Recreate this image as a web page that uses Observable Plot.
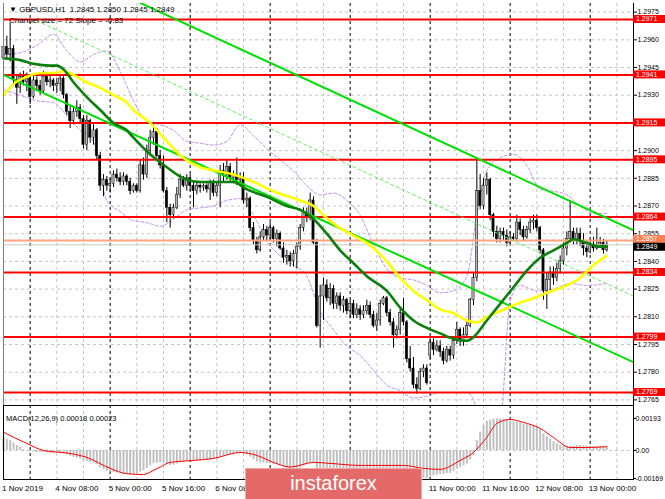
<!DOCTYPE html>
<html><head><meta charset="utf-8">
<script src="https://cdn.jsdelivr.net/npm/d3@7"></script>
<script src="https://cdn.jsdelivr.net/npm/@observablehq/plot@0.6"></script>
<style>
body{margin:0;background:#fff;}
#wrap{position:relative;width:665px;height:499px;overflow:hidden;font-family:"Liberation Sans",Arial,sans-serif;background:#fff;}
#wrap svg{position:absolute;left:0;}
#logo{position:absolute;left:245px;top:468px;width:175px;height:31px;background:#e46a6a;border:1px solid #f2a7a7;color:#fff;font-size:20px;line-height:29px;text-align:center;font-family:"Liberation Sans",Arial,sans-serif;}
</style></head><body><div id="wrap"></div>
<script>
// ---- H1 candles, bar 0 = 1 Nov 2019 16:00 ----
const opens = [1.2950,1.2956,1.2952,1.2955,1.2938,1.2934,1.2940,1.2937,1.2939,1.2929,
1.2938,1.2935,1.2932,1.2940,1.2937,1.2938,1.2935,1.2936,1.2939,1.2930,
1.2921,1.2916,1.2921,1.2923,1.2917,1.2903,1.2916,1.2907,1.2911,1.2897,
1.2881,1.2884,1.2881,1.2882,1.2887,1.2885,1.2883,1.2886,1.2883,1.2878,
1.2881,1.2878,1.2892,1.2887,1.2900,1.2907,1.2910,1.2897,1.2892,1.2878,
1.2869,1.2865,1.2869,1.2876,1.2884,1.2881,1.2885,1.2881,1.2878,1.2881,
1.2880,1.2881,1.2879,1.2883,1.2877,1.2881,1.2889,1.2887,1.2891,1.2885,
1.2887,1.2884,1.2885,1.2873,1.2874,1.2858,1.2851,1.2846,1.2853,1.2857,
1.2854,1.2858,1.2852,1.2855,1.2847,1.2842,1.2843,1.2840,1.2844,1.2848,
1.2858,1.2866,1.2864,1.2873,1.2850,1.2805,1.2821,1.2827,1.2820,1.2825,
1.2817,1.2821,1.2816,1.2819,1.2813,1.2817,1.2811,1.2814,1.2811,1.2813,
1.2816,1.2811,1.2805,1.2808,1.2817,1.2820,1.2812,1.2807,1.2800,1.2803,
1.2812,1.2807,1.2787,1.2782,1.2773,1.2771,1.2780,1.2782,1.2789,1.2796,
1.2792,1.2794,1.2791,1.2786,1.2792,1.2789,1.2797,1.2803,1.2797,1.2800,
1.2805,1.2819,1.2831,1.2878,1.2870,1.2881,1.2884,1.2865,1.2856,1.2852,
1.2856,1.2854,1.2850,1.2853,1.2852,1.2861,1.2857,1.2853,1.2857,1.2861,
1.2862,1.2858,1.2846,1.2824,1.2830,1.2834,1.2831,1.2836,1.2840,1.2847,
1.2852,1.2856,1.2851,1.2855,1.2851,1.2847,1.2845,1.2849,1.2847,1.2849,
1.2850,1.2846];
const highs = [1.2958,1.2962,1.2969,1.2957,1.2941,1.2942,1.2943,1.2942,1.2940,1.2941,
1.2940,1.2938,1.2943,1.2942,1.2940,1.2939,1.2939,1.2941,1.2940,1.2931,
1.2924,1.2923,1.2927,1.2925,1.2919,1.2919,1.2917,1.2914,1.2912,1.2899,
1.2887,1.2886,1.2885,1.2889,1.2890,1.2888,1.2888,1.2887,1.2885,1.2882,
1.2882,1.2895,1.2896,1.2903,1.2911,1.2915,1.2912,1.2900,1.2897,1.2880,
1.2871,1.2871,1.2880,1.2887,1.2886,1.2887,1.2887,1.2883,1.2883,1.2882,
1.2882,1.2882,1.2884,1.2884,1.2883,1.2892,1.2893,1.2895,1.2893,1.2889,
1.2896,1.2888,1.2888,1.2877,1.2875,1.2861,1.2853,1.2856,1.2860,1.2859,
1.2861,1.2859,1.2857,1.2856,1.2850,1.2846,1.2845,1.2846,1.2850,1.2860,
1.2869,1.2869,1.2877,1.2875,1.2852,1.2827,1.2831,1.2830,1.2828,1.2827,
1.2823,1.2823,1.2821,1.2820,1.2819,1.2819,1.2817,1.2816,1.2816,1.2819,
1.2818,1.2813,1.2812,1.2819,1.2821,1.2821,1.2814,1.2809,1.2805,1.2814,
1.2820,1.2808,1.2794,1.2788,1.2777,1.2782,1.2784,1.2784,1.2798,1.2798,
1.2797,1.2797,1.2793,1.2794,1.2794,1.2799,1.2807,1.2804,1.2804,1.2808,
1.2820,1.2834,1.2896,1.2887,1.2885,1.2888,1.2885,1.2866,1.2859,1.2858,
1.2858,1.2857,1.2856,1.2855,1.2865,1.2863,1.2859,1.2859,1.2863,1.2865,
1.2865,1.2859,1.2847,1.2834,1.2837,1.2837,1.2839,1.2843,1.2850,1.2856,
1.2873,1.2858,1.2858,1.2858,1.2855,1.2851,1.2852,1.2853,1.2858,1.2853,
1.2852,1.2851];
const lows = [1.2948,1.2949,1.2948,1.2935,1.2925,1.2931,1.2935,1.2932,1.2925,1.2928,
1.2932,1.2930,1.2931,1.2935,1.2934,1.2932,1.2931,1.2932,1.2928,1.2919,
1.2912,1.2914,1.2918,1.2915,1.2901,1.2900,1.2904,1.2903,1.2895,1.2878,
1.2875,1.2878,1.2877,1.2880,1.2883,1.2881,1.2881,1.2881,1.2876,1.2877,
1.2877,1.2877,1.2884,1.2885,1.2897,1.2903,1.2896,1.2890,1.2877,1.2861,
1.2858,1.2863,1.2868,1.2874,1.2880,1.2878,1.2878,1.2869,1.2876,1.2877,
1.2878,1.2877,1.2873,1.2875,1.2875,1.2869,1.2883,1.2884,1.2883,1.2882,
1.2881,1.2881,1.2871,1.2869,1.2856,1.2849,1.2844,1.2845,1.2851,1.2851,
1.2851,1.2850,1.2848,1.2846,1.2839,1.2838,1.2837,1.2837,1.2836,1.2846,
1.2856,1.2861,1.2862,1.2849,1.2804,1.2793,1.2808,1.2818,1.2816,1.2814,
1.2814,1.2813,1.2812,1.2811,1.2809,1.2809,1.2809,1.2808,1.2809,1.2811,
1.2809,1.2804,1.2802,1.2805,1.2816,1.2810,1.2805,1.2793,1.2798,1.2800,
1.2805,1.2785,1.2780,1.2771,1.2768,1.2770,1.2777,1.2773,1.2787,1.2789,
1.2791,1.2788,1.2784,1.2785,1.2786,1.2787,1.2795,1.2794,1.2794,1.2798,
1.2804,1.2816,1.2829,1.2868,1.2868,1.2876,1.2862,1.2853,1.2850,1.2850,
1.2851,1.2848,1.2849,1.2851,1.2851,1.2854,1.2851,1.2852,1.2855,1.2857,
1.2856,1.2844,1.2819,1.2814,1.2824,1.2827,1.2829,1.2833,1.2838,1.2843,
1.2850,1.2849,1.2849,1.2848,1.2843,1.2842,1.2844,1.2845,1.2846,1.2847,
1.2844,1.2845];
const closes = [1.2956,1.2952,1.2955,1.2938,1.2934,1.2940,1.2937,1.2939,1.2929,1.2938,
1.2935,1.2932,1.2940,1.2937,1.2938,1.2935,1.2936,1.2939,1.2930,1.2921,
1.2916,1.2921,1.2923,1.2917,1.2903,1.2916,1.2907,1.2911,1.2897,1.2881,
1.2884,1.2881,1.2882,1.2887,1.2885,1.2883,1.2886,1.2883,1.2878,1.2881,
1.2878,1.2892,1.2887,1.2900,1.2907,1.2910,1.2897,1.2892,1.2878,1.2869,
1.2865,1.2869,1.2876,1.2884,1.2881,1.2885,1.2881,1.2878,1.2881,1.2880,
1.2881,1.2879,1.2883,1.2877,1.2881,1.2889,1.2887,1.2891,1.2885,1.2887,
1.2884,1.2885,1.2873,1.2874,1.2858,1.2851,1.2846,1.2853,1.2857,1.2854,
1.2858,1.2852,1.2855,1.2847,1.2842,1.2843,1.2840,1.2844,1.2848,1.2858,
1.2866,1.2864,1.2873,1.2850,1.2805,1.2821,1.2827,1.2820,1.2825,1.2817,
1.2821,1.2816,1.2819,1.2813,1.2817,1.2811,1.2814,1.2811,1.2813,1.2816,
1.2811,1.2805,1.2808,1.2817,1.2820,1.2812,1.2807,1.2800,1.2803,1.2812,
1.2807,1.2787,1.2782,1.2773,1.2771,1.2780,1.2782,1.2774,1.2796,1.2792,
1.2794,1.2791,1.2786,1.2792,1.2789,1.2797,1.2803,1.2797,1.2800,1.2805,
1.2819,1.2831,1.2878,1.2870,1.2881,1.2884,1.2865,1.2856,1.2852,1.2856,
1.2854,1.2850,1.2853,1.2852,1.2861,1.2857,1.2853,1.2857,1.2861,1.2862,
1.2858,1.2846,1.2824,1.2830,1.2834,1.2831,1.2836,1.2840,1.2847,1.2852,
1.2856,1.2851,1.2855,1.2851,1.2847,1.2845,1.2849,1.2847,1.2849,1.2850,
1.2846,1.2849];

// ---- moving averages (bar index, value) ----
const maGreenBars = [0,5,9,14,16,18,21,25,29,33,37,39,44,49,54,59,64,69,73,79,85,89,93,97,101,105,109,115,119,123,127,131,135,139,141,145,149,153,157,161,165,169,171,175,179,181];
const maGreenValues = [1.2950,1.2949,1.2947,1.2946,1.2946,1.2944,1.2937,1.2929,1.2922,1.2915,1.2911,1.2907,1.2898,1.2891,1.2885,1.2883,1.2883,1.2883,1.2879,1.2875,1.2870,1.2868,1.2863,1.2855,1.2846,1.2839,1.2832,1.2824,1.2815,1.2808,1.2804,1.2801,1.2798,1.2797,1.2799,1.2808,1.2817,1.2826,1.2835,1.2842,1.2846,1.2850,1.2852,1.2850,1.2848,1.2848];
const maYellowBars = [0,3,7,11,15,18,21,25,29,33,37,39,44,49,54,59,64,69,75,81,89,93,96,101,105,109,115,119,123,127,131,135,139,142,145,149,154,159,163,169,173,177,181];
const maYellowValues = [1.2930,1.2936,1.2940,1.2942,1.2942,1.2943,1.2941,1.2937,1.2934,1.2930,1.2926,1.2922,1.2915,1.2905,1.2896,1.2891,1.2889,1.2887,1.2883,1.2878,1.2873,1.2870,1.2865,1.2858,1.2854,1.2850,1.2840,1.2831,1.2824,1.2819,1.2814,1.2812,1.2808,1.2807,1.2810,1.2813,1.2817,1.2820,1.2823,1.2827,1.2831,1.2838,1.2843];
// ---- envelope bands ----
const bandUpperBars = [0,5,10,15,19,23,27,31,35,39,43,47,51,55,59,63,67,71,75,79,83,87,91,95,99,103,107,111,115,119,123,127,131,135,139,142,145,149,153,157,161,165,169,173,177,181];
const bandUpperValues = [1.2952,1.2953,1.2957,1.2963,1.2954,1.2948,1.2952,1.2954,1.2943,1.2927,1.2916,1.2914,1.2911,1.2905,1.2904,1.2903,1.2905,1.2914,1.2908,1.2901,1.2895,1.2889,1.2881,1.2876,1.2877,1.2873,1.2865,1.2849,1.2836,1.2831,1.2830,1.2827,1.2823,1.2824,1.2832,1.2865,1.2889,1.2896,1.2898,1.2892,1.2879,1.2878,1.2876,1.2870,1.2866,1.2866];
const bandLowerBars = [0,5,10,15,19,23,27,31,35,39,43,47,51,55,59,63,67,71,75,79,83,87,91,95,99,103,107,111,115,119,123,127,131,135,139,141,143,149,152,155,160,165,170,175,181];
const bandLowerValues = [1.2933,1.2930,1.2927,1.2926,1.2919,1.2911,1.2905,1.2873,1.2867,1.2862,1.2861,1.2859,1.2863,1.2868,1.2869,1.2870,1.2873,1.2874,1.2865,1.2851,1.2843,1.2838,1.2832,1.2813,1.2803,1.2794,1.2789,1.2781,1.2773,1.2770,1.2766,1.2767,1.2769,1.2769,1.2769,1.2765,1.2754,1.2754,1.2819,1.2827,1.2824,1.2825,1.2828,1.2827,1.2828];
// ---- trend lines (bar index, price) ----
const trendUpper = [[41, 1.29800],[189, 1.28568]];
const trendLower = [[0, 1.29410],[189, 1.27854]];
const trendDashed = [[10, 1.29703],[189, 1.28212]];
// ---- horizontal levels ----
const redLevels = [1.2971,1.2941,1.2915,1.2895,1.2864,1.2834,1.2799,1.2769];
const askLine = 1.28513, askLabel = "1.2857";
const bidLine = 1.2849, bidLabel = "1.2849";
const priceTicks = [1.2765,1.2780,1.2795,1.2810,1.2825,1.2840,1.2855,1.2870,1.2885,1.2900,1.2915,1.2930,1.2945,1.2960,1.2975];
// ---- MACD(12,26,9) ----
const macdMain = [0.00075,0.00068,0.00060,0.00045,0.00030,0.00018,0.00005,-0.00002,-0.00008,-0.00010,
-0.00012,-0.00012,-0.00012,-0.00014,-0.00015,-0.00016,-0.00018,-0.00020,-0.00022,-0.00028,
-0.00036,-0.00042,-0.00046,-0.00052,-0.00062,-0.00066,-0.00072,-0.00076,-0.00086,-0.00105,
-0.00115,-0.00125,-0.00130,-0.00133,-0.00136,-0.00138,-0.00140,-0.00142,-0.00145,-0.00145,
-0.00142,-0.00130,-0.00122,-0.00108,-0.00092,-0.00080,-0.00076,-0.00074,-0.00078,-0.00085,
-0.00090,-0.00088,-0.00082,-0.00074,-0.00070,-0.00066,-0.00064,-0.00064,-0.00062,-0.00060,
-0.00058,-0.00056,-0.00054,-0.00054,-0.00052,-0.00042,-0.00036,-0.00028,-0.00026,-0.00022,
-0.00018,-0.00016,-0.00020,-0.00026,-0.00040,-0.00055,-0.00068,-0.00074,-0.00076,-0.00078,
-0.00080,-0.00083,-0.00085,-0.00090,-0.00098,-0.00104,-0.00110,-0.00114,-0.00114,-0.00106,
-0.00094,-0.00086,-0.00074,-0.00078,-0.00110,-0.00125,-0.00128,-0.00132,-0.00134,-0.00138,
-0.00140,-0.00142,-0.00144,-0.00145,-0.00146,-0.00146,-0.00146,-0.00147,-0.00147,-0.00146,
-0.00147,-0.00150,-0.00150,-0.00146,-0.00142,-0.00142,-0.00144,-0.00148,-0.00148,-0.00144,
-0.00142,-0.00150,-0.00158,-0.00166,-0.00172,-0.00170,-0.00168,-0.00170,-0.00160,-0.00154,
-0.00148,-0.00145,-0.00145,-0.00140,-0.00138,-0.00128,-0.00112,-0.00104,-0.00094,-0.00082,
-0.00058,-0.00030,0.00060,0.00110,0.00150,0.00175,0.00182,0.00188,0.00190,0.00190,
0.00188,0.00184,0.00178,0.00172,0.00170,0.00166,0.00160,0.00156,0.00152,0.00148,
0.00142,0.00130,0.00100,0.00082,0.00068,0.00052,0.00040,0.00030,0.00025,0.00022,
0.00024,0.00026,0.00030,0.00030,0.00028,0.00025,0.00024,0.00024,0.00022,0.00022,
0.00020,0.00018];
const signalBars = [0,7,12,20,25,32,37,42,45,47,50,57,63,71,76,81,86,93,98,107,120,126,131,137,141,145,148,152,156,161,165,170,175,181];
const signalValues = [0.00110,0.00042,0.0,-0.00018,-0.00042,-0.00108,-0.00140,-0.00145,-0.00120,-0.00100,-0.00072,-0.00060,-0.00048,-0.00012,-0.00030,-0.00072,-0.00100,-0.00072,-0.00078,-0.00090,-0.00090,-0.00108,-0.00114,-0.00060,-0.00012,0.00080,0.00163,0.00187,0.00169,0.00133,0.00078,0.00018,0.00018,0.00023];
const macdTicks = [0.00193, 0, -0.00169];
const macdTickLabels = ["0.00193","0.00","-0.00169"];
// ---- time axis (labels that the logo hides are omitted) ----
const dateTicks = [0,16,32,48,64,128,144,160,176];
const dateLabels = ["1 Nov 2019","4 Nov 08:00","5 Nov 00:00","5 Nov 16:00","6 Nov 08:00","11 Nov 00:00","11 Nov 16:00","12 Nov 08:00","13 Nov 00:00"];
const headerLine1 = "GBPUSD,H1  1.2845 1.2850 1.2845 1.2849";
const headerLine2 = "Channel size = 72 Slope = -0.83";
const macdTitle = "MACD(12,26,9) 0.00018 0.00023";

// ---------------------------------------------------------------
const FONT = "Liberation Sans, Arial, sans-serif";
const bars = closes.map((c, i) => ({i, o: opens[i], h: highs[i], l: lows[i], c}));
const pairs = (b, v) => b.map((x, k) => ({x, v: v[k]}));
const X_DOMAIN = [0, 189];
const gridBars = d3.range(8, 189, 8);
const dayBars = gridBars.filter(i => (i - 8) % 24 === 0);
const lightBars = gridBars.filter(i => (i - 8) % 24 !== 0);
const grids = [
  Plot.ruleX(lightBars, {stroke: "#c4c4c4", strokeDasharray: "3,3"}),
  Plot.ruleX(dayBars, {stroke: "#000", strokeDasharray: "3,3", strokeWidth: 1})
];
const hiddenByLabel = v => redLevels.some(r => Math.abs(r - v) < 0.00005);

const wrap = document.getElementById("wrap");

const main = Plot.plot({
  width: 665, height: 405,
  marginLeft: 3, marginRight: 32, marginTop: 3, marginBottom: 0,
  x: {domain: X_DOMAIN, axis: null},
  y: {domain: [1.276196, 1.297967], axis: null},
  style: {fontFamily: FONT, fontSize: "7px", color: "#000", background: "transparent", overflow: "visible"},
  marks: [
    Plot.ruleY(priceTicks, {stroke: "#c4c4c4", strokeDasharray: "3,3"}),
    ...grids,
    Plot.line(pairs(bandUpperBars, bandUpperValues), {x: "x", y: "v", stroke: "#c48ef0", strokeWidth: 1, strokeDasharray: "3,2", curve: "monotone-x", clip: true}),
    Plot.line(pairs(bandLowerBars, bandLowerValues), {x: "x", y: "v", stroke: "#c48ef0", strokeWidth: 1, strokeDasharray: "3,2", curve: "monotone-x", clip: true}),
    Plot.ruleX(bars, {x: "i", y1: "l", y2: "h", stroke: "#000", strokeWidth: 1}),
    Plot.rect(bars, {x1: d => d.i - 0.33, x2: d => d.i + 0.33, y1: "o", y2: "c",
      fill: d => d.c >= d.o ? "#b8b8b8" : "#000", stroke: "#000", strokeWidth: 0.5}),
    Plot.ruleY(redLevels, {stroke: "#ff0000", strokeWidth: 2}),
    Plot.ruleY([askLine], {stroke: "#ffa47e", strokeWidth: 2}),
    Plot.ruleY([bidLine], {stroke: "#c8c8c8", strokeWidth: 1}),
    Plot.line(trendDashed, {x: d => d[0], y: d => d[1], stroke: "#66f066", strokeWidth: 1, strokeDasharray: "3,3", clip: true}),
    Plot.line(trendUpper, {x: d => d[0], y: d => d[1], stroke: "#00e000", strokeWidth: 2, clip: true}),
    Plot.line(trendLower, {x: d => d[0], y: d => d[1], stroke: "#00e000", strokeWidth: 2, clip: true}),
    Plot.line(pairs(maYellowBars, maYellowValues), {x: "x", y: "v", stroke: "#ffff00", strokeWidth: 2.6, curve: "monotone-x"}),
    Plot.line(pairs(maGreenBars, maGreenValues), {x: "x", y: "v", stroke: "#0b7f0b", strokeWidth: 2.6, curve: "monotone-x"}),
    Plot.ruleX([X_DOMAIN[0]], {stroke: "#808080"}),
    Plot.ruleX([X_DOMAIN[1]], {stroke: "#000"}),
    Plot.ruleY([1.276196], {stroke: "#000"}),
    Plot.axisY({anchor: "right", label: null, ticks: priceTicks, tickFormat: v => hiddenByLabel(v) ? "" : d3.format(".4f")(v), tickSize: 3, tickPadding: 1, fontSize: 7, stroke: "#000"})
  ]
});
main.style.top = "0px";
wrap.appendChild(main);

// value labels on the price axis
const ys = main.scale("y");
const sv = d3.select(main);
const lab = (v, text, fill, off) => {
  const yy = ys.apply(v) + (off || 0);
  sv.append("rect").attr("x", 633).attr("y", yy - 4).attr("width", 32).attr("height", 8).attr("fill", fill);
  sv.append("text").attr("x", 636).attr("y", yy).attr("dy", "0.35em").attr("fill", "#fff").attr("text-anchor", "start")
    .attr("font-size", 7).attr("font-family", FONT).text(text);
};
redLevels.forEach(v => lab(v, d3.format(".4f")(v), "#ff0000"));
lab(askLine, askLabel, "#ff7f50", -1);
lab(bidLine, bidLabel, "#000", 2.5);
// header
sv.append("text").attr("x", 9).attr("y", 12).attr("text-anchor", "start").attr("font-size", 8).attr("font-family", FONT).attr("fill", "#000").text("\u25BC " + headerLine1);
sv.append("text").attr("x", 9).attr("y", 23).attr("text-anchor", "start").attr("font-size", 8).attr("font-family", FONT).attr("fill", "#000").text(headerLine2);

// ---- MACD panel ----
const macd = Plot.plot({
  width: 665, height: 95,
  marginLeft: 3, marginRight: 32, marginTop: 1, marginBottom: 20,
  x: {domain: X_DOMAIN, axis: null},
  y: {domain: [-0.00175, 0.00271], axis: null},
  style: {fontFamily: FONT, fontSize: "7px", color: "#000", background: "transparent", overflow: "visible"},
  marks: [
    ...grids,
    Plot.ruleY([0], {stroke: "#c4c4c4", strokeDasharray: "3,3"}),
    Plot.ruleX(bars, {x: "i", y1: 0, y2: d => macdMain[d.i], stroke: "#c0c0c0", strokeWidth: 2}),
    Plot.line(pairs(signalBars, signalValues), {x: "x", y: "v", stroke: "#ff0000", strokeWidth: 1, curve: "monotone-x"}),
    Plot.frame({stroke: "#000"}),
    Plot.axisY({anchor: "right", label: null, ticks: macdTicks, tickFormat: d => macdTickLabels[macdTicks.indexOf(d)], tickSize: 2, tickPadding: 0, fontSize: 7})
  ]
});
macd.style.top = "404px";
wrap.appendChild(macd);
const ms = d3.select(macd);
const xs = macd.scale("x");
ms.append("text").attr("x", 6).attr("y", 14).attr("dy", "0.35em").attr("text-anchor", "start").attr("font-size", 7.5).attr("font-family", FONT).attr("fill", "#000").text(macdTitle);
dateTicks.forEach((t, k) => {
  ms.append("text").attr("x", xs.apply(t) - 1).attr("y", 84).attr("dy", "0.35em").attr("text-anchor", "start")
    .attr("font-size", 8).attr("font-family", FONT).attr("fill", "#000").text(dateLabels[k]);
});

// logo
const logo = document.createElement("div");
logo.id = "logo";
logo.textContent = "instaforex";
wrap.appendChild(logo);
</script></body></html>
